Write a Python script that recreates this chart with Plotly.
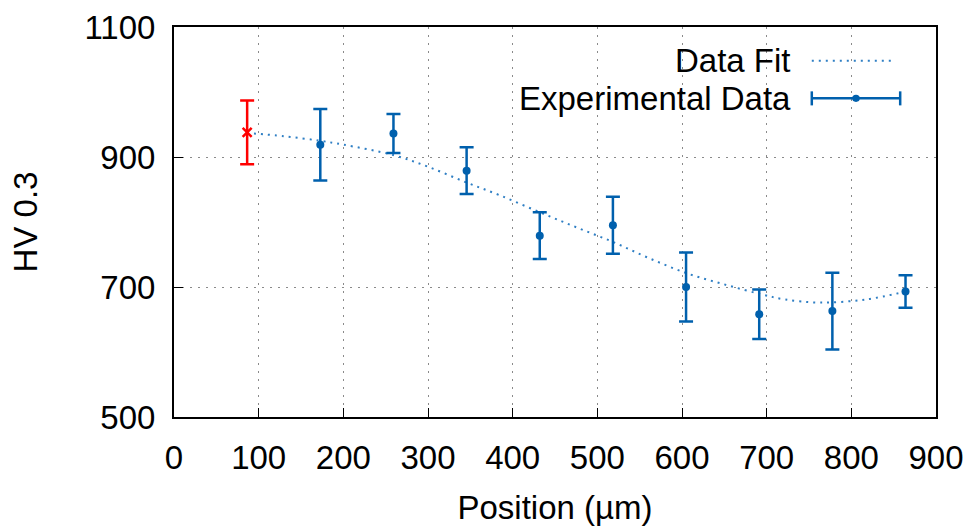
import plotly.graph_objects as go

# Experimental data (first point highlighted in red)
red_pos = [86.4]
red_hv = [938]
red_err = [49]

exp_pos = [172.8, 259.2, 345.6, 432.0, 518.4, 604.8, 691.2, 777.6, 864.0]
exp_hv = [919, 936, 879, 779, 795, 700, 658, 663, 693]
exp_err = [55, 30, 36, 36, 44, 53, 38, 59, 25]

# Data fit curve
fit_pos = [86, 130, 172, 200, 259, 300, 345, 385, 432, 475, 519, 560, 606, 650, 693, 721, 763, 818, 864]
fit_hv = [937, 932, 925, 919, 903, 885, 861, 841, 815, 792, 769, 745, 721, 704, 689, 681, 676, 681, 693]

x_ticks = [0, 100, 200, 300, 400, 500, 600, 700, 800, 900]
y_ticks = [500, 700, 900, 1100]

BLUE = "#0060ad"
FIT = "#2f7fc4"
FONT = "Liberation Sans, Arial, sans-serif"
FS = 33

fig = go.Figure()

fig.add_trace(go.Scatter(
    x=fit_pos, y=fit_hv, mode="lines", line=dict(color=FIT, width=2, dash="2px,5px", shape="spline"),
    showlegend=False, hoverinfo="skip"))

fig.add_trace(go.Scatter(
    x=exp_pos, y=exp_hv, mode="markers",
    marker=dict(color=BLUE, size=8, symbol="circle"),
    error_y=dict(type="data", array=exp_err, visible=True, color=BLUE, thickness=2.5, width=7),
    showlegend=False))

fig.add_trace(go.Scatter(
    x=red_pos, y=red_hv, mode="markers",
    marker=dict(color="#ff0000", size=9, symbol="x-thin", line=dict(color="#ff0000", width=2.5)),
    error_y=dict(type="data", array=red_err, visible=True, color="#ff0000", thickness=2.5, width=7),
    showlegend=False))

# Legend drawn gnuplot-style (text right-aligned, sample on the right)
ly1, ly2 = 0.9136, 0.817
fig.add_annotation(xref="paper", yref="paper", x=0.8125, y=ly1, text="Data Fit", showarrow=False,
                   xanchor="right", yanchor="middle", font=dict(family=FONT, size=FS, color="black"))
fig.add_annotation(xref="paper", yref="paper", x=0.8125, y=ly2, text="Experimental Data", showarrow=False,
                   xanchor="right", yanchor="middle", font=dict(family=FONT, size=FS, color="black"))
fig.add_shape(type="line", xref="paper", yref="paper", x0=0.837, x1=0.945, y0=ly1, y1=ly1,
              line=dict(color=FIT, width=2, dash="2px,5px"))
fig.add_shape(type="line", xref="paper", yref="paper", x0=0.837, x1=0.953, y0=ly2, y1=ly2,
              line=dict(color=BLUE, width=2.5))
for xx in (0.837, 0.953):
    fig.add_shape(type="line", xref="paper", yref="paper", x0=xx, x1=xx, y0=ly2 - 0.018, y1=ly2 + 0.018,
                  line=dict(color=BLUE, width=2.5))
fig.add_shape(type="circle", xref="paper", yref="paper", x0=0.895 - 0.005, x1=0.895 + 0.005,
              y0=ly2 - 0.009, y1=ly2 + 0.009, fillcolor=BLUE, line=dict(color=BLUE, width=0))

axis_common = dict(
    showline=True, mirror=True, linecolor="black", linewidth=2,
    ticks="inside", ticklen=9, tickwidth=1, tickcolor="black",
    showgrid=True, gridcolor="#8a8a8a", gridwidth=1, griddash="2px,6px",
    zeroline=False, tickfont=dict(family=FONT, size=FS, color="black"),
    automargin=False,
)

fig.update_xaxes(range=[0, 900], tickvals=x_ticks, ticktext=[str(v) for v in x_ticks],
                 title=dict(text="Position (µm)", font=dict(family=FONT, size=FS, color="black"), standoff=30),
                 ticklabelstandoff=10, **axis_common)
fig.update_yaxes(range=[500, 1100], tickvals=y_ticks, ticktext=[str(v) for v in y_ticks],
                 title=dict(text="HV 0.3", font=dict(family=FONT, size=FS, color="black"), standoff=37),
                 ticklabelstandoff=10, **axis_common)

fig.update_layout(
    width=969, height=526,
    margin=dict(l=174, r=33, t=27, b=109),
    paper_bgcolor="white", plot_bgcolor="white",
    showlegend=False,
    font=dict(family=FONT, size=FS, color="black"),
)

fig.write_html("out.html")
